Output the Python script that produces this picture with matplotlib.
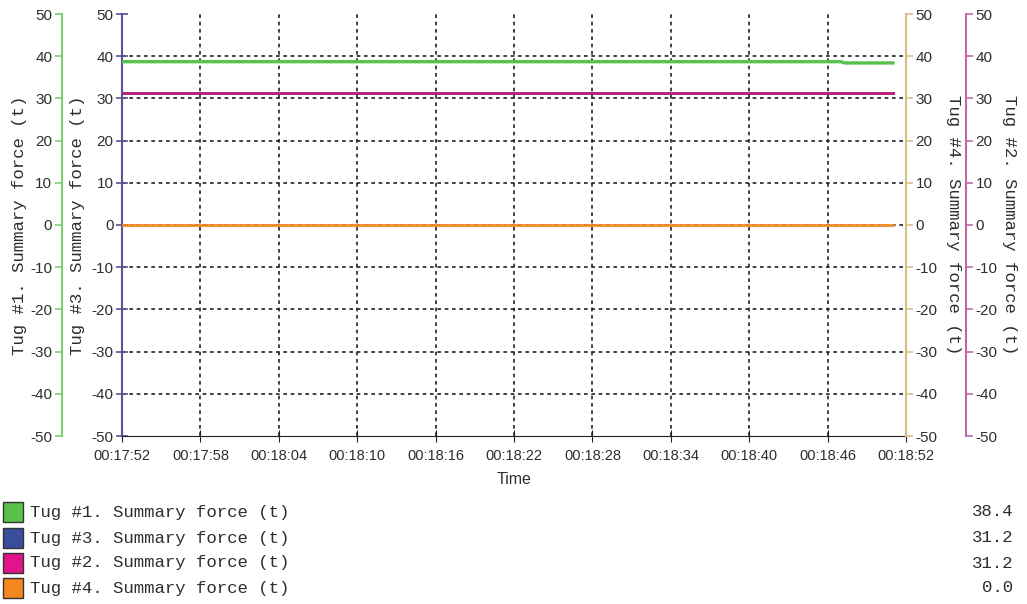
import matplotlib
matplotlib.use("Agg")
import matplotlib.pyplot as plt

plt.rcParams["axes.unicode_minus"] = False

# seconds after 00:17:52
time_s = [0, 20, 40, 55, 55.3, 59]
tug1 = [38.7, 38.7, 38.7, 38.7, 38.4, 38.4]
tug3 = [31.2, 31.2, 31.2, 31.2, 31.2, 31.2]
tug2 = [31.2, 31.2, 31.2, 31.2, 31.2, 31.2]
tug4 = [0.0, 0.0, 0.0, 0.0, 0.0, 0.0]

tick_s = [0, 6, 12, 18, 24, 30, 36, 42, 48, 54, 60]
tick_labels = ["00:17:52", "00:17:58", "00:18:04", "00:18:10", "00:18:16", "00:18:22",
               "00:18:28", "00:18:34", "00:18:40", "00:18:46", "00:18:52"]
y_ticks = [-50, -40, -30, -20, -10, 0, 10, 20, 30, 40, 50]

legend_names = ["Tug #1. Summary force (t)", "Tug #3. Summary force (t)",
                "Tug #2. Summary force (t)", "Tug #4. Summary force (t)"]
legend_values = ["38.4", "31.2", "31.2", "0.0"]
legend_colors = ["#5cc04c", "#3a4c9c", "#e0158a", "#f3861f"]

W, H = 1027, 604
sans = "Liberation Sans"
mono = "Liberation Mono"
txt = "#2e2e2e"

fig = plt.figure(figsize=(W / 100, H / 100), dpi=100)
ax3 = fig.add_axes([122 / W, 1 - 436 / H, 784 / W, 422 / H])
ax1 = ax3.twinx()
ax4 = ax3.twinx()
ax2 = ax3.twinx()

# extra axes 60 px outside the plot on each side
ax1.yaxis.tick_left()
ax1.spines["left"].set_position(("axes", -60 / 784))
ax2.spines["right"].set_position(("axes", 1 + 60 / 784))

spine_cols = {ax1: ("left", "#7ccf72"), ax3: ("left", "#5a5296"),
              ax4: ("right", "#d9bd85"), ax2: ("right", "#c266a8")}
for a in (ax1, ax2, ax3, ax4):
    for s in a.spines.values():
        s.set_visible(False)
    a.set_ylim(-50, 50)
    a.set_yticks(y_ticks)
    a.set_xlim(0, 60)
    a.patch.set_visible(False)
for a, (side, c) in spine_cols.items():
    a.spines[side].set_visible(True)
    a.spines[side].set_color(c)
    a.spines[side].set_linewidth(1.5)
    a.tick_params(axis="y", colors=c, labelcolor=txt, length=5, width=1.2,
                  labelsize=11, pad=2)
    for lab in a.get_yticklabels():
        lab.set_family(sans)
ax3.tick_params(axis="y", direction="inout", length=8)

ax3.spines["bottom"].set_visible(True)
ax3.spines["bottom"].set_color("#222222")
ax3.set_xticks(tick_s)
ax3.set_xticklabels(tick_labels, family=sans, fontsize=10.5, color=txt)
ax3.tick_params(axis="x", direction="inout", length=8, color="#222222", pad=5)
ax3.set_xlabel("Time", family=sans, fontsize=11.5, color=txt, labelpad=7)

for v in y_ticks[1:-1]:
    ax3.axhline(v, color="#222222", lw=1.2, ls=(0, (2.2, 2.2)), zorder=0)
for v in tick_s[1:-1]:
    ax3.axvline(v, color="#222222", lw=1.2, ls=(0, (2.2, 2.2)), zorder=0)

ax4.plot(time_s, tug4, color="#f08a28", lw=2)
ax3.plot(time_s, tug3, color="#3a4c9c", lw=2)
ax2.plot(time_s, tug2, color="#bc2378", lw=2)
ax1.plot(time_s, tug1, color="#58c24c", lw=2.4)

lab_kw = dict(family=mono, fontsize=12.5, color=txt, va="center", ha="center")
yc = 1 - 225 / H
fig.text(20 / W, yc, "Tug #1. Summary force (t)", rotation=90, **lab_kw)
fig.text(78 / W, yc, "Tug #3. Summary force (t)", rotation=90, **lab_kw)
fig.text(953 / W, yc, "Tug #4. Summary force (t)", rotation=270, **lab_kw)
fig.text(1010 / W, yc, "Tug #2. Summary force (t)", rotation=270, **lab_kw)

# legend rows
row_y = [512, 538, 563, 588]
for name, val, col, ry in zip(legend_names, legend_values, legend_colors, row_y):
    fig.patches.append(plt.Rectangle((3 / W, 1 - (ry + 10) / H), 20 / W, 20 / H,
                                     transform=fig.transFigure, facecolor=col,
                                     edgecolor="#333333", lw=1))
    fig.text(30 / W, 1 - ry / H, name, family=mono, fontsize=12.5, color=txt,
             va="center", ha="left")
    fig.text(1013 / W, 1 - ry / H, val, family=mono, fontsize=12.5, color=txt,
             va="center", ha="right")

fig.savefig("out.png", dpi=100)
